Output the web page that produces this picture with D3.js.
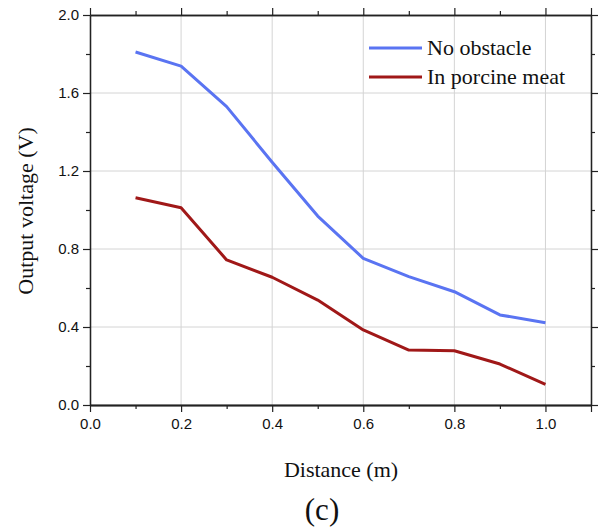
<!DOCTYPE html>
<html>
<head>
<meta charset="utf-8">
<script src="https://cdn.jsdelivr.net/npm/d3@7"></script>
<style>
  body { margin: 0; background: #fff; }
  .tick text { font-family: "Liberation Sans", Arial, sans-serif; font-size: 15px; fill: #111; }
  .serif { font-family: "Liberation Serif", "Times New Roman", serif; fill: #111; }
</style>
</head>
<body>
<script>
// distances (m) and measured output voltage (V)
var distance = [0.1, 0.2, 0.3, 0.4, 0.5, 0.6, 0.7, 0.8, 0.9, 1.0];
var noObstacle = [1.81, 1.738, 1.53, 1.245, 0.969, 0.752, 0.658, 0.581, 0.462, 0.422];
var porcineMeat = [1.063, 1.012, 0.744, 0.655, 0.538, 0.385, 0.282, 0.278, 0.21, 0.106];
var seriesNames = ["No obstacle", "In porcine meat"];
var seriesColors = ["#5a74f2", "#a01818"];
var xTicks = [0.0, 0.2, 0.4, 0.6, 0.8, 1.0];
var yTicks = [0.0, 0.4, 0.8, 1.2, 1.6, 2.0];

var margin = {top: 15, right: 15, bottom: 125, left: 90};
var width = 606 - margin.left - margin.right,
	height = 530 - margin.top - margin.bottom;

var svg = d3.select("body").append("svg")
	.attr("width", 606)
	.attr("height", 530);

var g = svg.append("g")
	.attr("transform", "translate(" + margin.left + "," + margin.top + ")");

var x = d3.scaleLinear().domain([0, 1.1]).range([0, width]);
var y = d3.scaleLinear().domain([0, 2.0]).range([height, 0]);

// grid
g.append("g").selectAll("line")
	.data(xTicks.filter(function(d) { return d > 0; }))
	.enter().append("line")
	.attr("x1", function(d) { return x(d); })
	.attr("x2", function(d) { return x(d); })
	.attr("y1", 0).attr("y2", height)
	.attr("stroke", "#d4d4d4").attr("stroke-width", 1);

g.append("g").selectAll("line")
	.data(yTicks.filter(function(d) { return d > 0 && d < 2; }))
	.enter().append("line")
	.attr("y1", function(d) { return y(d); })
	.attr("y2", function(d) { return y(d); })
	.attr("x1", 0).attr("x2", width)
	.attr("stroke", "#d4d4d4").attr("stroke-width", 1);

// axes: major ticks with labels, minor ticks without
var minorX = d3.range(1, 11, 2).map(function(d) { return d / 10; });
var minorY = d3.range(1, 10, 2).map(function(d) { return d / 5; });
var xMajor = xTicks.concat([1.1]);

function styleAxis(sel) {
	sel.select(".domain").attr("stroke", "#222").attr("stroke-width", 1.3);
	sel.selectAll(".tick line").attr("stroke", "#222").attr("stroke-width", 1.2);
}

g.append("g").attr("transform", "translate(0," + height + ")")
	.call(d3.axisBottom(x).tickValues(xTicks).tickFormat(d3.format(".1f")).tickSize(7).tickSizeOuter(0).tickPadding(6))
	.call(styleAxis);
g.append("g").attr("transform", "translate(0," + height + ")")
	.call(d3.axisBottom(x).tickValues(minorX).tickFormat("").tickSize(4).tickSizeOuter(0))
	.call(styleAxis);
g.append("g").attr("transform", "translate(0," + height + ")")
	.call(d3.axisBottom(x).tickValues([1.1]).tickFormat("").tickSize(7).tickSizeOuter(0))
	.call(styleAxis);

g.append("g")
	.call(d3.axisTop(x).tickValues(xMajor).tickFormat("").tickSize(7).tickSizeOuter(0))
	.call(styleAxis);
g.append("g")
	.call(d3.axisTop(x).tickValues(minorX).tickFormat("").tickSize(4).tickSizeOuter(0))
	.call(styleAxis);

g.append("g")
	.call(d3.axisLeft(y).tickValues(yTicks).tickFormat(d3.format(".1f")).tickSize(7).tickSizeOuter(0).tickPadding(4))
	.call(styleAxis);
g.append("g")
	.call(d3.axisLeft(y).tickValues(minorY).tickFormat("").tickSize(4).tickSizeOuter(0))
	.call(styleAxis);

g.append("g").attr("transform", "translate(" + width + ",0)")
	.call(d3.axisRight(y).tickValues(yTicks).tickFormat("").tickSize(7).tickSizeOuter(0))
	.call(styleAxis);
g.append("g").attr("transform", "translate(" + width + ",0)")
	.call(d3.axisRight(y).tickValues(minorY).tickFormat("").tickSize(4).tickSizeOuter(0))
	.call(styleAxis);

// lines
var line = d3.line()
	.x(function(d) { return x(d[0]); })
	.y(function(d) { return y(d[1]); });

[noObstacle, porcineMeat].forEach(function(vals, i) {
	g.append("path")
		.datum(d3.zip(distance, vals))
		.attr("fill", "none")
		.attr("stroke", seriesColors[i])
		.attr("stroke-width", 3)
		.attr("stroke-linejoin", "round")
		.attr("d", line);
});

// legend
var legend = svg.append("g").attr("transform", "translate(369,48)");
seriesNames.forEach(function(name, i) {
	legend.append("line")
		.attr("x1", 0).attr("x2", 53)
		.attr("y1", i * 29).attr("y2", i * 29)
		.attr("stroke", seriesColors[i]).attr("stroke-width", 3);
	legend.append("text")
		.attr("class", "serif")
		.attr("x", 58).attr("y", i * 29 + 7)
		.style("font-size", "22px")
		.text(name);
});

// axis titles
svg.append("text")
	.attr("class", "serif")
	.attr("transform", "rotate(-90)")
	.attr("x", -211).attr("y", 33)
	.attr("text-anchor", "middle")
	.style("font-size", "22px")
	.text("Output voltage (V)");

svg.append("text")
	.attr("class", "serif")
	.attr("x", 341).attr("y", 477)
	.attr("text-anchor", "middle")
	.style("font-size", "22px")
	.text("Distance (m)");

svg.append("text")
	.attr("class", "serif")
	.attr("x", 322).attr("y", 520)
	.attr("text-anchor", "middle")
	.style("font-size", "31px")
	.text("(c)");
</script>
</body>
</html>
